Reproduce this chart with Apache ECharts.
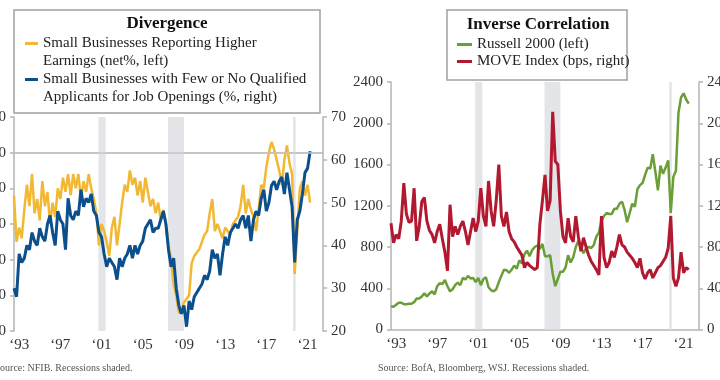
<!DOCTYPE html>
<html><head><meta charset="utf-8">
<script src="https://cdn.jsdelivr.net/npm/echarts@6/dist/echarts.min.js"></script>
<style>html,body{margin:0;padding:0;background:#fff}#c{width:720px;height:380px}</style>
</head><body><div id="c"></div>
<script>
const FONT = '"Liberation Serif", "DejaVu Serif", serif';

// Quarterly observations, first point = Q1 1993
const startYear = 1993;
const yearTickPos = [1993.5, 1997.5, 2001.5, 2005.5, 2009.5, 2013.5, 2017.5, 2021.5];
const yearTickLabels = ['\u201893','\u201897','\u201801','\u201805','\u201809','\u201813','\u201817','\u201821'];
const recessions = [[2001.2, 2001.9], [2007.95, 2009.5], [2020.1, 2020.35]];

// Small Businesses Reporting Higher Earnings (net%, left)
const earnings = [
  -12,-25,-21,-24, -16,-9,-15,-6, -17,-13,-19,-8, -15,-11,-20,-14,
  -18,-10,-13,-7, -11,-6,-12,-6, -10,-6,-13,-8, -11,-6,-10,-13,
  -17,-26,-20,-22, -25,-29,-21,-18, -26,-20,-14,-9, -11,-5,-9,-7,
  -12,-8,-14,-7, -11,-15,-13,-17, -14,-19,-16,-20, -26,-30,-37,-40,
  -45,-44,-42,-41, -40,-31,-29,-28, -27,-25,-23,-22, -17,-13,-22,-20,
  -22,-24,-21,-22, -23,-20,-19,-18, -15,-9,-17,-13, -16,-18,-22,-16,
  -9,-10,-4,0, 3,1,-2,-5, -9,-2,2,-3, -6,-34,-22,-10, -8,-12,-9,-14
];
// Small Businesses with Few or No Qualified Applicants (% , right)
const applicants = [
  30,28,38,36, 37,40,39,43, 41,40,44,42, 41,45,47,43,
  40,48,46,45, 39,51,47,46, 48,47,53,49, 51,50,52,48,
  47,43,42,38, 35,37,36,35, 32,37,35,37, 38,40,37,40,
  38,40,41,44, 45,46,43,44, 44,46,48,45, 39,35,37,30,
  26,24,26,21, 27,25,28,29, 30,31,33,32, 34,39,37,38,
  33,38,42,40, 43,44,45,44, 46,47,44,47, 41,46,48,47,
  51,53,48,50, 54,55,53,55, 56,52,57,53, 49,36,46,48, 52,57,58,62
];
// Russell 2000 (left)
const russell = [
  225,220,240,260, 260,245,245,250, 250,265,300,300, 320,350,320,350,
  370,340,420,450, 440,480,420,370, 390,430,455,430, 500,485,520,495,
  500,460,500,430, 490,505,410,380, 370,390,460,520, 580,575,550,580,
  620,590,670,640, 730,765,710,770, 800,815,780,830, 710,710,720,540,
  420,490,560,560, 600,720,650,700, 800,860,800,740, 790,800,790,820,
  900,940,1050,1100, 1130,1120,1120,1170, 1170,1220,1240,1160, 1040,1130,1220,1190,
  1360,1400,1420,1500, 1570,1560,1700,1530, 1350,1590,1510,1570, 1640,1130,1480,1540,
  2100,2250,2290,2230, 2190
];
// MOVE Index (bps, right)
const move = [
  103,84,92,88, 105,142,112,104, 105,137,86,100, 124,128,105,96,
  92,84,95,102, 88,75,57,121, 90,100,92,100, 105,95,82,95,
  108,95,105,137, 110,100,144,115, 100,125,160,110, 100,114,95,88,
  85,80,76,72, 60,65,62,60, 58,60,102,125, 150,115,125,211,
  163,160,115,90, 84,108,90,85, 110,90,76,89, 80,72,66,62,
  58,53,110,70, 60,65,76,70, 80,92,82,80, 75,72,69,65,
  60,69,55,49, 55,58,50,55, 60,62,66,70, 79,110,50,42,
  50,75,55,60, 58
];

const names = {
  earn: 'Small Businesses Reporting Higher Earnings (net%, left)',
  appl: 'Small Businesses with Few or No Qualified Applicants for Job Openings (%, right)',
  rus: 'Russell 2000 (left)',
  move: 'MOVE Index (bps, right)'
};
const legendLines = {};
legendLines[names.earn] = 'Small Businesses Reporting Higher\nEarnings (net%, left)';
legendLines[names.appl] = 'Small Businesses with Few or No Qualified\nApplicants for Job Openings (%, right)';
legendLines[names.rus] = 'Russell 2000 (left)';
legendLines[names.move] = 'MOVE Index (bps, right)';

const toPairs = arr => arr.map((v, i) => [startYear + i * 0.25, v]);

const COL = { yellow: '#F3B833', blue: '#0B4F8C', green: '#6A9E36', red: '#B2182F' };
const axisGrey = '#b5b5b5';
const shade = '#E3E5E8';

function xAxisCfg(gridIndex) {
  return {
    type: 'value', gridIndex, min: 1993, max: 2023,
    axisLine: { show: true, lineStyle: { color: axisGrey, width: 1.5 } },
    axisTick: { show: false },
    splitLine: { show: false },
    axisLabel: {
      customValues: yearTickPos,
      formatter: v => { const k = yearTickPos.indexOf(v); return k >= 0 ? yearTickLabels[k] : ''; },
      fontFamily: FONT, fontSize: 15, color: '#333', margin: 7
    }
  };
}
function yAxisCfg(gridIndex, pos, min, max, interval) {
  return {
    type: 'value', gridIndex, position: pos, min, max, interval,
    axisLine: { show: true, lineStyle: { color: axisGrey, width: 1.5 } },
    axisTick: { show: true, length: 4, lineStyle: { color: axisGrey, width: 1.5 } },
    splitLine: { show: false },
    axisLabel: { fontFamily: FONT, fontSize: 15, color: '#333', margin: 8, formatter: v => String(v) }
  };
}
const recessionAreas = recessions.map(r => [{ xAxis: r[0] }, { xAxis: r[1] }]);

// legend icon: short dash aligned with the first text line
const dashTop = 'path://M0,0H13V3H0Z M0,20H0.05V20.05H0Z';

const option = {
  animation: false,
  backgroundColor: '#fff',
  grid: [
    { left: 14, right: 397, top: 117, height: 214, containLabel: false, outerBoundsMode: 'none' },
    { left: 391, right: 21, top: 82, height: 247.5, containLabel: false, outerBoundsMode: 'none' }
  ],
  xAxis: [xAxisCfg(0), xAxisCfg(1)],
  yAxis: [
    yAxisCfg(0, 'left', -50, 10, 10),
    yAxisCfg(0, 'right', 20, 70, 10),
    yAxisCfg(1, 'left', 0, 2400, 400),
    yAxisCfg(1, 'right', 0, 240, 40)
  ],
  legend: [
    {
      data: [names.earn, names.appl], orient: 'vertical', left: 25, top: 34,
      itemGap: 0, itemWidth: 13, itemHeight: 20, icon: dashTop, padding: 0,
      formatter: n => legendLines[n], selectedMode: false,
      textStyle: { fontFamily: FONT, fontSize: 15, lineHeight: 18, color: '#222' }
    },
    {
      data: [names.rus, names.move], orient: 'vertical', left: 457, top: 36,
      itemGap: 0, itemWidth: 15, itemHeight: 3, icon: 'rect', padding: 0,
      formatter: n => legendLines[n], selectedMode: false,
      textStyle: { fontFamily: FONT, fontSize: 15, lineHeight: 17, color: '#222' }
    }
  ],
  graphic: [
    { type: 'rect', z: 1, shape: { x: 14, y: 10, width: 306, height: 103 },
      style: { fill: '#fff', stroke: '#a0a0a0', lineWidth: 1.5 } },
    { type: 'rect', z: 1, shape: { x: 447, y: 10, width: 180, height: 70 },
      style: { fill: '#fff', stroke: '#a0a0a0', lineWidth: 1.5 } },
    { type: 'text', z: 10, x: 167, y: 24, style: { text: 'Divergence', align: 'center', verticalAlign: 'middle',
      font: 'bold 17px ' + FONT, fill: '#111' } },
    { type: 'text', z: 10, x: 538, y: 25, style: { text: 'Inverse Correlation', align: 'center', verticalAlign: 'middle',
      font: 'bold 17px ' + FONT, fill: '#111' } },
    { type: 'text', z: 10, x: -5.5, y: 368, style: { text: 'Source: NFIB. Recessions shaded.', verticalAlign: 'middle',
      font: '10px ' + FONT, fill: '#555' } },
    { type: 'text', z: 10, x: 378, y: 368, style: { text: 'Source: BofA, Bloomberg, WSJ. Recessions shaded.', verticalAlign: 'middle',
      font: '10px ' + FONT, fill: '#555' } }
  ],
  series: [
    { type: 'line', xAxisIndex: 0, yAxisIndex: 0, data: [], silent: true, z: 1,
      markArea: { silent: true, itemStyle: { color: shade }, data: recessionAreas },
      markLine: { silent: true, symbol: 'none', label: { show: false },
        lineStyle: { color: '#c4c4c4', width: 1.5, type: 'solid' }, data: [{ yAxis: 0 }] } },
    { name: names.earn, type: 'line', xAxisIndex: 0, yAxisIndex: 0, data: toPairs(earnings),
      showSymbol: false, z: 3, color: COL.yellow, lineStyle: { color: COL.yellow, width: 2.5 } },
    { name: names.appl, type: 'line', xAxisIndex: 0, yAxisIndex: 1, data: toPairs(applicants),
      showSymbol: false, z: 4, color: COL.blue, lineStyle: { color: COL.blue, width: 3 } },
    { type: 'line', xAxisIndex: 1, yAxisIndex: 2, data: [], silent: true, z: 1,
      markArea: { silent: true, itemStyle: { color: shade }, data: recessionAreas } },
    { name: names.rus, type: 'line', xAxisIndex: 1, yAxisIndex: 2, data: toPairs(russell),
      showSymbol: false, z: 3, color: COL.green, lineStyle: { color: COL.green, width: 2.5 } },
    { name: names.move, type: 'line', xAxisIndex: 1, yAxisIndex: 3, data: toPairs(move),
      showSymbol: false, z: 4, color: COL.red, lineStyle: { color: COL.red, width: 3 } }
  ]
};
const chart = echarts.init(document.getElementById('c'), null, { renderer: 'canvas' });
chart.setOption(option);
</script></body></html>
